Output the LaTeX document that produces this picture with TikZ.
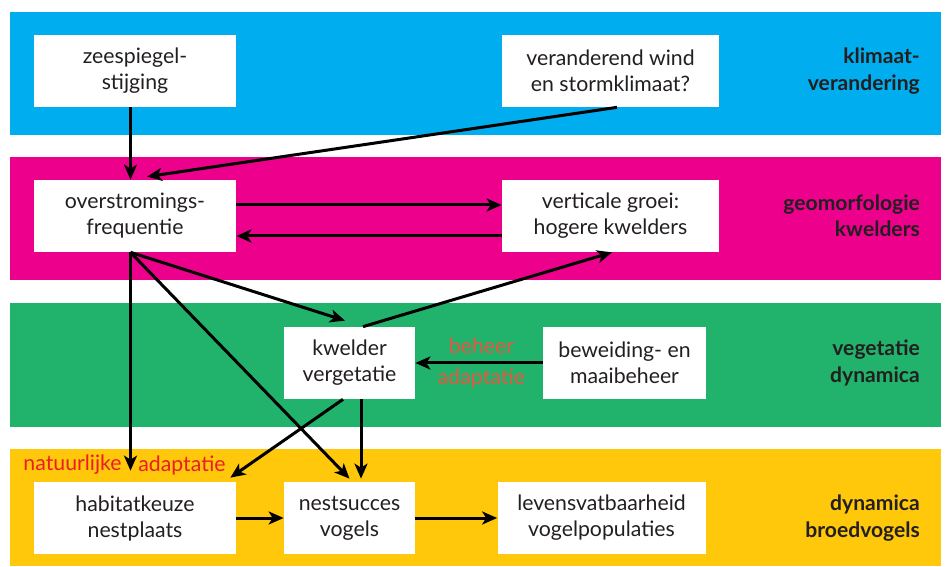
\documentclass[tikz,border=0pt]{standalone}
\usepackage{fontspec}
\setmainfont{Lato}
\usetikzlibrary{arrows.meta}
\definecolor{klimaat}{RGB}{0,174,239}
\definecolor{geomorf}{RGB}{236,0,140}
\definecolor{vegetatie}{RGB}{33,179,108}
\definecolor{broed}{RGB}{255,200,10}
\definecolor{inkt}{RGB}{35,31,32}
\definecolor{rood}{RGB}{237,28,36}
\definecolor{oranje}{RGB}{232,85,64}
\tikzset{
  vak/.style={fill=white, minimum height=1.44cm, inner sep=0pt, align=center},
  laag/.style={anchor=east, align=right, font=\fontsize{12}{15}\selectfont\bfseries},
  pijl/.style={line width=0.06cm, -{Stealth[length=0.3cm,width=0.26cm,inset=0.08cm]}}
}
\begin{document}
\begin{tikzpicture}[text=inkt, font=\fontsize{12.1}{14.8}\selectfont]
      \useasboundingbox (0,0) rectangle (18.92,11.32);
      \fill[klimaat] (0.2,8.61) rectangle (18.82,11.08);
      \fill[geomorf] (0.2,5.72) rectangle (18.82,8.18);
      \fill[vegetatie] (0.2,2.77) rectangle (18.82,5.26);
      \fill[broed] (0.2,0) rectangle (18.82,2.34);
      \draw[align=center]
        (2.70, 9.90) node[vak, minimum width=4.04cm] (zee){zeespiegel-\\stijging}
        (12.21, 9.90) node[vak, minimum width=4.34cm] (wind){veranderend wind\\en stormklimaat?}
        (2.70, 7.00) node[vak, minimum width=4.04cm] (over){overstromings-\\frequentie}
        (12.21, 7.00) node[vak, minimum width=4.34cm] (groei){verticale groei:\\hogere kwelders}
        (6.99, 4.06) node[vak, minimum width=2.62cm] (kwelder){kwelder\\vergetatie}
        (12.49, 4.06) node[vak, minimum width=3.26cm] (beheer){beweiding- en\\maaibeheer}
        (2.70, 0.96) node[vak, minimum width=4.04cm] (habitat){habitatkeuze\\nestplaats}
        (6.99, 0.96) node[vak, minimum width=2.62cm] (nest){nestsucces\\vogels}
        (12.03, 0.96) node[vak, minimum width=4.16cm] (pop){levensvatbaarheid\\vogelpopulaties};
      \draw
        (18.52, 9.90) node[laag] (l1){klimaat-\\verandering}
        (18.52, 7.00) node[laag] (l2){geomorfologie\\kwelders}
        (18.52, 4.06) node[laag] (l3){vegetatie\\dynamica}
        (18.52, 0.96) node[laag] (l4){dynamica\\broedvogels}
        (1.45, 2.02) node[text=rood] (natuur){natuurlijke}
        (3.64, 2.02) node[text=rood] (adapt){adaptatie}
        (9.63, 4.41) node[text=oranje] (bh){beheer}
        (9.63, 3.76) node[text=oranje] (ba){adaptatie};
      \begin{scope}[pijl]
        \draw ([xshift=-0.09cm]zee.south) to ([xshift=-0.09cm]over.north);
        \draw ([xshift=0.13cm]wind.south) to ([xshift=0.24cm,yshift=0.06cm]over.north);
        \draw ([yshift=0.22cm]over.east) to ([yshift=0.22cm]groei.west);
        \draw ([yshift=-0.40cm]groei.west) to ([yshift=-0.40cm]over.east);
        \draw ([xshift=-0.09cm]over.south) to ([xshift=-0.09cm,yshift=0.22cm]habitat.north);
        \draw ([xshift=-0.09cm]over.south) to ([xshift=-0.09cm,yshift=0.12cm]kwelder.north);
        \draw ([xshift=-0.09cm]over.south) to ([yshift=0.06cm]nest.north);
        \draw ([xshift=0.27cm]kwelder.north) to ([xshift=0.03cm]groei.south);
        \draw (beheer.west) to (kwelder.east);
        \draw ([xshift=-0.13cm]kwelder.south) to ([xshift=-0.12cm,yshift=0.08cm]habitat.north east);
        \draw ([xshift=0.23cm]kwelder.south) to ([xshift=0.23cm,yshift=0.06cm]nest.north);
        \draw (habitat.east) to (nest.west);
        \draw (nest.east) to (pop.west);
      \end{scope}
    \end{tikzpicture}
\end{document}
